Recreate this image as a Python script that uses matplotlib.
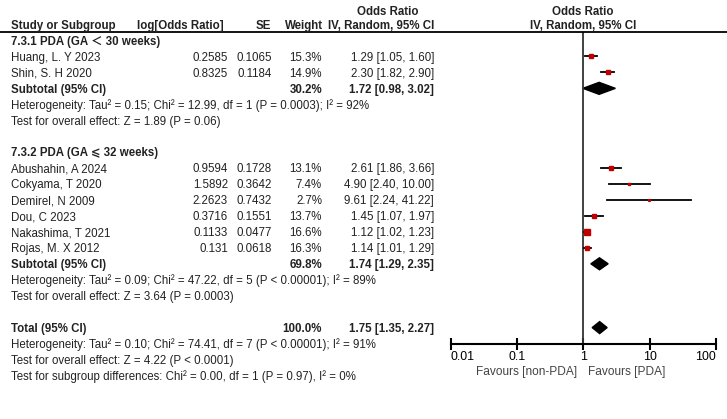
import matplotlib.pyplot as plt
import numpy as np

W, H = 727, 419
plt.rcParams['font.family'] = ['Liberation Sans', 'DejaVu Sans', 'Noto Sans CJK SC']

# dati
studi1 = ["Huang, L. Y 2023", "Shin, S. H 2020"]
logor1 = ["0.2585", "0.8325"]
se1 = ["0.1065", "0.1184"]
peso1 = [15.3, 14.9]
or1 = [1.29, 2.30]
lo1 = [1.05, 1.82]
hi1 = [1.60, 2.90]

studi2 = ["Abushahin, A 2024", "Cokyama, T 2020", "Demirel, N 2009", "Dou, C 2023",
          "Nakashima, T 2021", "Rojas, M. X 2012"]
logor2 = ["0.9594", "1.5892", "2.2623", "0.3716", "0.1133", "0.131"]
se2 = ["0.1728", "0.3642", "0.7432", "0.1551", "0.0477", "0.0618"]
peso2 = [13.1, 7.4, 2.7, 13.7, 16.6, 16.3]
or2 = [2.61, 4.90, 9.61, 1.45, 1.12, 1.14]
lo2 = [1.86, 2.40, 2.24, 1.07, 1.02, 1.01]
hi2 = [3.66, 10.00, 41.22, 1.97, 1.23, 1.29]

sub_peso = [30.2, 69.8, 100.0]
sub_or = [1.72, 1.74, 1.75]
sub_lo = [0.98, 1.29, 1.35]
sub_hi = [3.02, 2.35, 2.27]

het1 = "Heterogeneity: Tau\u00b2 = 0.15; Chi\u00b2 = 12.99, df = 1 (P = 0.0003); I\u00b2 = 92%"
eff1 = "Test for overall effect: Z = 1.89 (P = 0.06)"
het2 = "Heterogeneity: Tau\u00b2 = 0.09; Chi\u00b2 = 47.22, df = 5 (P < 0.00001); I\u00b2 = 89%"
eff2 = "Test for overall effect: Z = 3.64 (P = 0.0003)"
hett = "Heterogeneity: Tau\u00b2 = 0.10; Chi\u00b2 = 74.41, df = 7 (P < 0.00001); I\u00b2 = 91%"
efft = "Test for overall effect: Z = 4.22 (P < 0.0001)"
subd = "Test for subgroup differences: Chi\u00b2 = 0.00, df = 1 (P = 0.97), I\u00b2 = 0%"

tick_val = [0.01, 0.1, 1, 10, 100]
tick_lab = ['0.01', '0.1', '1', '10', '100']

col = '#222222'
fs = 8.3

fig = plt.figure(figsize=(W / 100, H / 100), dpi=100)

def t(x, y, s, ha='left', bold=False, c=col, size=fs):
    # y = centro riga in pixel, testo posato sulla linea di base
    fig.text(x / W, 1 - (y + 4.3) / H, s, ha=ha, va='baseline', fontsize=size,
             fontweight='bold' if bold else 'normal', color=c)

def riga(i):
    return 40.5 + i * 15.95

# asse del forest plot
x0, x1, ytop, ybot = 450.7, 716.3, 32, 344
ax = fig.add_axes([x0 / W, 1 - ybot / H, (x1 - x0) / W, (ybot - ytop) / H])
ax.set_xscale('log')
ax.set_xlim(0.01, 100)
ax.set_ylim(ybot, ytop)
for s in ['top', 'left', 'right']:
    ax.spines[s].set_visible(False)
ax.spines['bottom'].set_linewidth(1.5)
ax.set_yticks([])
ax.set_xticks(tick_val)
ax.set_xticklabels(tick_lab)
ax.minorticks_off()
ax.tick_params(axis='x', direction='inout', length=8, width=1.5, labelsize=fs + 0.6,
               colors='black', pad=1)
labs = ax.get_xticklabels()
labs[0].set_ha('left')
labs[-1].set_ha('right')
ax.axvline(1, color='#333333', lw=1.3)

# intestazione
fig.add_artist(plt.Line2D([0, 1], [1 - 32 / H, 1 - 32 / H], color='black', lw=1.3))
t(11, 24.5, "Study or Subgroup", bold=True)
t(224, 24.5, "log[Odds Ratio]", ha='right', bold=True)
t(271, 24.5, "SE", ha='right', bold=True)
t(323, 24.5, "Weight", ha='right', bold=True)
t(434, 24.5, "IV, Random, 95% CI", ha='right', bold=True)
t(388, 10.5, "Odds Ratio", ha='center', bold=True)
t(583, 10.5, "Odds Ratio", ha='center', bold=True)
t(583, 24.5, "IV, Random, 95% CI", ha='center', bold=True)

def studio(i, nome, lor, se, w, o, l, h):
    y = riga(i)
    t(11, y, nome)
    t(228, y, lor, ha='right')
    t(272, y, se, ha='right')
    t(322, y, "%.1f%%" % w, ha='right')
    t(434, y, "%.2f [%.2f, %.2f]" % (o, l, h), ha='right')
    ax.plot([l, h], [y, y], color='black', lw=1.3)
    ax.plot(o, y, 's', color='#c00000', ms=0.8 + w * 0.17, mec='#c00000')

def diamante(i, etichetta, w, o, l, h):
    y = riga(i)
    t(11, y, etichetta, bold=True)
    t(322, y, "%.1f%%" % w, ha='right', bold=True)
    t(434, y, "%.2f [%.2f, %.2f]" % (o, l, h), ha='right', bold=True)
    ax.fill([l, o, h, o], [y, y - 6, y, y + 6], color='black')

t(11, riga(0), "7.3.1 PDA (GA \uff1c 30 weeks)", bold=True)
for k in range(len(studi1)):
    studio(1 + k, studi1[k], logor1[k], se1[k], peso1[k], or1[k], lo1[k], hi1[k])
diamante(3, "Subtotal (95% CI)", sub_peso[0], sub_or[0], sub_lo[0], sub_hi[0])
t(11, riga(4), het1)
t(11, riga(5), eff1)

t(11, riga(7), "7.3.2 PDA (GA \u2a7d 32 weeks)", bold=True)
for k in range(len(studi2)):
    studio(8 + k, studi2[k], logor2[k], se2[k], peso2[k], or2[k], lo2[k], hi2[k])
diamante(14, "Subtotal (95% CI)", sub_peso[1], sub_or[1], sub_lo[1], sub_hi[1])
t(11, riga(15), het2)
t(11, riga(16), eff2)

diamante(18, "Total (95% CI)", sub_peso[2], sub_or[2], sub_lo[2], sub_hi[2])
t(11, riga(19), hett)
t(11, riga(20), efft)
t(11, riga(21), subd)

t(577, 371, "Favours [non-PDA]", ha='right', c='#444444', size=fs + 0.3)
t(588, 371, "Favours [PDA]", ha='left', c='#444444', size=fs + 0.3)

fig.savefig('out.png', dpi=100)
